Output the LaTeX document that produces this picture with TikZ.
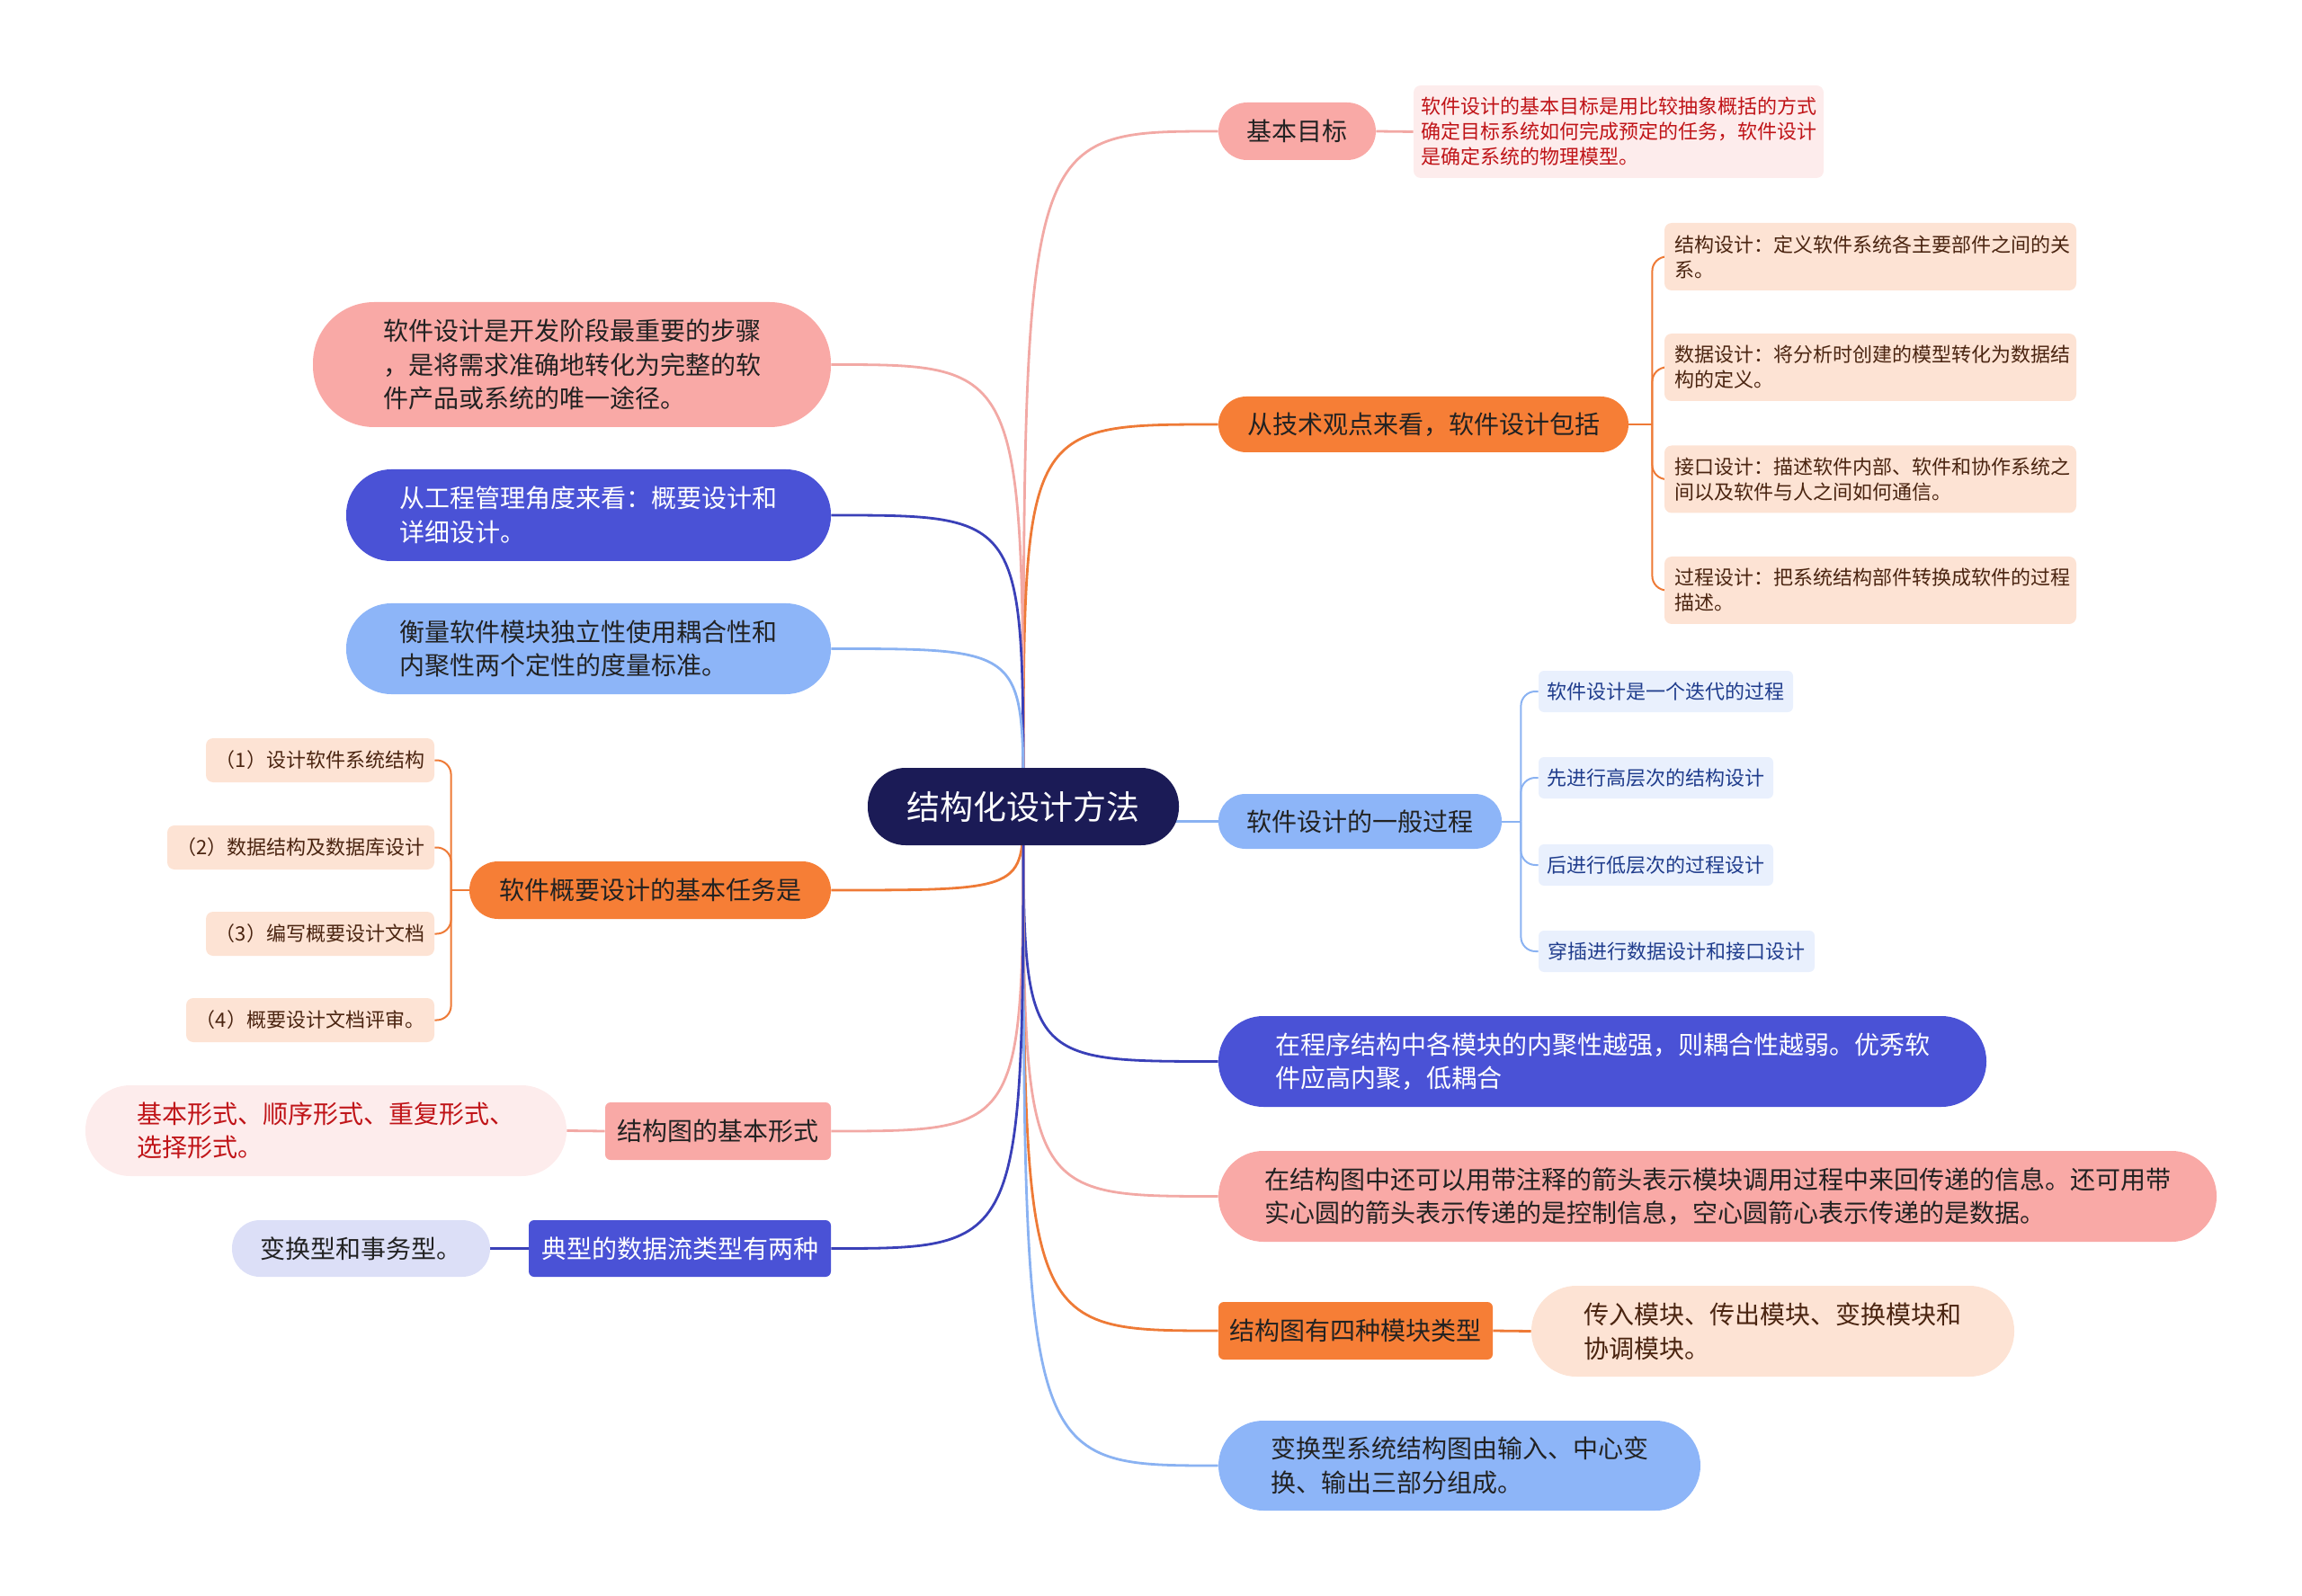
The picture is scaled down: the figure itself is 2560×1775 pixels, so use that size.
\documentclass[tikz,border=0pt]{standalone}
\usepackage{fontspec}
\setmainfont{Noto Sans CJK SC}
\usetikzlibrary{calc}
\definecolor{navy}{HTML}{1B1B56}
\definecolor{pinkf}{HTML}{F9A9A6}
\definecolor{orangef}{HTML}{F67E36}
\definecolor{lbluef}{HTML}{8DB5F8}
\definecolor{rbluef}{HTML}{4A52D6}
\definecolor{peachf}{HTML}{FDE3D4}
\definecolor{lpinkf}{HTML}{FDECEC}
\definecolor{pbluef}{HTML}{E9F0FD}
\definecolor{lavf}{HTML}{DCDFF7}
\definecolor{pinkl}{HTML}{F2A9A5}
\definecolor{orangel}{HTML}{EE7A36}
\definecolor{lbluel}{HTML}{8AB2F2}
\definecolor{rbluel}{HTML}{3A40B8}
\definecolor{darkred}{HTML}{C01418}
\definecolor{darkbrown}{HTML}{4A2410}
\definecolor{dblue}{HTML}{1F3C8C}
\definecolor{txt}{HTML}{222222}
\pgfdeclarelayer{bg}
\pgfsetlayers{bg,main}
\tikzset{
  box/.style={inner sep=0pt, align=left, anchor=center},
  big/.style={font=\fontsize{14}{18.8}\selectfont},
  small/.style={font=\fontsize{11}{14}\selectfont},
  sz/.style n args={3}{minimum width=#1pt, minimum height=#2pt, rounded corners=#3pt},
  mainline/.style={line width=1.4pt},
  subline/.style={line width=1pt},
}
\begin{document}
\begin{tikzpicture}[x=0.5pt,y=-0.5pt]
\useasboundingbox (0,0) rectangle (2560,1775);
% center
\node[box, fill=navy, text=white, font=\fontsize{18.5}{22}\selectfont, sz={173}{43}{21}] (ctr) at (1138,897) {结构化设计方法};
% right side
\node[box, big, fill=pinkf, text=txt, sz={87.5}{32}{16}] (R1) at (1442.5,146) {基本目标};
\node[box, small, fill=lpinkf, text=darkred, sz={228}{51.5}{4}] (R1d) at (1800,146.5) {软件设计的基本目标是用比较抽象概括的方式\\确定目标系统如何完成预定的任务，软件设计\\是确定系统的物理模型。};
\node[box, big, fill=orangef, text=txt, sz={228}{31}{15.5}] (R2) at (1583,472) {从技术观点来看，软件设计包括};
\node[box, small, fill=peachf, text=darkbrown, sz={229}{37.5}{4}, text width=218pt] (R2a) at (2080,285.5) {结构设计：定义软件系统各主要部件之间的关\\系。};
\node[box, small, fill=peachf, text=darkbrown, sz={229}{37.5}{4}, text width=218pt] (R2b) at (2080,408.5) {数据设计：将分析时创建的模型转化为数据结\\构的定义。};
\node[box, small, fill=peachf, text=darkbrown, sz={229}{37.5}{4}, text width=218pt] (R2c) at (2080,533) {接口设计：描述软件内部、软件和协作系统之\\间以及软件与人之间如何通信。};
\node[box, small, fill=peachf, text=darkbrown, sz={229}{37.5}{4}, text width=218pt] (R2d) at (2080,656.5) {过程设计：把系统结构部件转换成软件的过程\\描述。};
\node[box, big, fill=lbluef, text=txt, sz={157.5}{30.5}{15}] (R3) at (1512.5,913.5) {软件设计的一般过程};
\node[box, small, fill=pbluef, text=dblue, sz={141.5}{23}{3}] (R3a) at (1852.5,769) {软件设计是一个迭代的过程};
\node[box, small, fill=pbluef, text=dblue, sz={130.5}{23}{3}] (R3b) at (1841.5,865) {先进行高层次的结构设计};
\node[box, small, fill=pbluef, text=dblue, sz={130.5}{23}{3}] (R3c) at (1841.5,962) {后进行低层次的过程设计};
\node[box, small, fill=pbluef, text=dblue, sz={153.5}{23}{3}] (R3d) at (1864.5,1058) {穿插进行数据设计和接口设计};
\node[box, big, fill=rbluef, text=white, sz={427}{50.5}{25}] (R4) at (1782,1180.5) {在程序结构中各模块的内聚性越强，则耦合性越弱。优秀软\\件应高内聚，低耦合};
\node[box, big, fill=pinkf, text=txt, sz={555}{50.5}{25}] (R5) at (1910,1330.5) {在结构图中还可以用带注释的箭头表示模块调用过程中来回传递的信息。还可用带\\实心圆的箭头表示传递的是控制信息，空心圆箭心表示传递的是数据。};
\node[box, big, fill=orangef, text=txt, sz={152.5}{32}{3}] (R6) at (1507.5,1480) {结构图有四种模块类型};
\node[box, big, fill=peachf, text=darkbrown, sz={268.5}{50.5}{25}] (R6d) at (1971.5,1480.5) {传入模块、传出模块、变换模块和\\协调模块。};
\node[box, big, fill=lbluef, text=txt, sz={268}{50}{25}] (R7) at (1623,1630) {变换型系统结构图由输入、中心变\\换、输出三部分组成。};
% left side
\node[box, big, fill=pinkf, text=txt, sz={288}{69.5}{34}] (L1) at (636,405.5) {软件设计是开发阶段最重要的步骤\\，是将需求准确地转化为完整的软\\件产品或系统的唯一途径。};
\node[box, big, fill=rbluef, text=white, sz={269.5}{51}{25}] (L2) at (654.5,573) {从工程管理角度来看：概要设计和\\详细设计。};
\node[box, big, fill=lbluef, text=txt, sz={269.5}{50.5}{25}] (L3) at (654.5,721.5) {衡量软件模块独立性使用耦合性和\\内聚性两个定性的度量标准。};
\node[box, big, fill=orangef, text=txt, sz={201}{32}{16}] (L4) at (723,990) {软件概要设计的基本任务是};
\node[box, small, fill=peachf, text=darkbrown, sz={127}{24.5}{4}] (L4a) at (356,845.5) {（1）设计软件系统结构};
\node[box, small, fill=peachf, text=darkbrown, sz={148.5}{24.5}{4}] (L4b) at (334.5,942.5) {（2）数据结构及数据库设计};
\node[box, small, fill=peachf, text=darkbrown, sz={127}{24.5}{4}] (L4c) at (356,1038.5) {（3）编写概要设计文档};
\node[box, small, fill=peachf, text=darkbrown, sz={138}{24.5}{4}] (L4d) at (345,1134.5) {（4）概要设计文档评审。};
\node[box, big, fill=pinkf, text=txt, sz={125.5}{32}{3}] (L5) at (798.5,1258) {结构图的基本形式};
\node[box, big, fill=lpinkf, text=darkred, sz={267.5}{50.5}{25}] (L5d) at (362.5,1257.5) {基本形式、顺序形式、重复形式、\\选择形式。};
\node[box, big, fill=rbluef, text=white, sz={168}{31.5}{3}] (L6) at (756,1388.5) {典型的数据流类型有两种};
\node[box, big, fill=lavf, text=txt, sz={143.5}{31.5}{15.5}] (L6d) at (401.5,1388.5) {变换型和事务型。};
\begin{pgfonlayer}{bg}
\coordinate (o) at (1138,897);
% main connectors
\draw[mainline, pinkl] (o) .. controls (o |- R1.west) .. (R1.west);
\draw[mainline, orangel] (o) .. controls (o |- R2.west) .. (R2.west);
\draw[mainline, lbluel] (o |- R3.west) -- (R3.west);
\draw[mainline, rbluel] (o) .. controls (o |- R4.west) .. (R4.west);
\draw[mainline, pinkl] (o) .. controls (o |- R5.west) .. (R5.west);
\draw[mainline, orangel] (o) .. controls (o |- R6.west) .. (R6.west);
\draw[mainline, lbluel] (o) .. controls (o |- R7.west) .. (R7.west);
\draw[mainline, pinkl] (o) .. controls (o |- L1.east) .. (L1.east);
\draw[mainline, rbluel] (o) .. controls (o |- L2.east) .. (L2.east);
\draw[mainline, lbluel] (o) .. controls (o |- L3.east) .. (L3.east);
\draw[mainline, orangel] (o) .. controls (o |- L4.east) .. (L4.east);
\draw[mainline, pinkl] (o) .. controls (o |- L5.east) .. (L5.east);
\draw[mainline, rbluel] (o) .. controls (o |- L6.east) .. (L6.east);
% detail connectors
\draw[mainline, pinkl] (R1.east) -- (R1d.west);
\draw[mainline, orangel] (R6.east) -- (R6d.west);
\draw[mainline, pinkl] (L5.west) -- (L5d.east);
\draw[mainline, rbluel] (L6.west) -- (L6d.east);
% brackets
\coordinate (j2) at ($(R2.east)+(26,0)$);
\draw[subline, orangel] (R2.east) -- (j2);
\foreach \c in {R2a,R2b,R2c,R2d} \draw[subline, orangel, rounded corners=8pt] (j2) |- (\c.west);
\coordinate (j3) at ($(R3.east)+(21,0)$);
\draw[subline, lbluel] (R3.east) -- (j3);
\foreach \c in {R3a,R3b,R3c,R3d} \draw[subline, lbluel, rounded corners=8pt] (j3) |- (\c.west);
\coordinate (j4) at ($(L4.west)+(-20,0)$);
\draw[subline, orangel] (L4.west) -- (j4);
\foreach \c in {L4a,L4b,L4c,L4d} \draw[subline, orangel, rounded corners=8pt] (j4) |- (\c.east);
\end{pgfonlayer}
\end{tikzpicture}
\end{document}
